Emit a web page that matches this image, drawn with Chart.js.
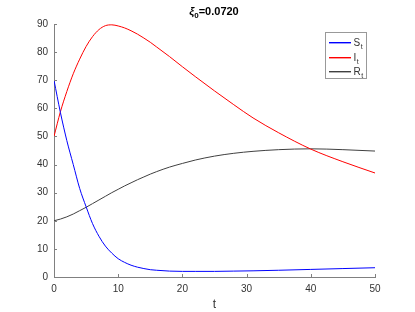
<!DOCTYPE html>
<html>
<head>
<meta charset="utf-8">
<script src="https://cdn.jsdelivr.net/npm/chart.js@4"></script>
<style>
  html, body { margin: 0; padding: 0; background: #fff; }
  #wrap { position: relative; width: 415px; height: 312px; }
</style>
</head>
<body>
<div id="wrap"><canvas id="sir" width="415" height="312"></canvas></div>
<script>
// SIR model run, xi_0 = 0.0720

const tValues = [0, 1, 2, 3, 4, 5, 6, 7, 8, 9, 10, 11, 12, 13, 14, 15, 16, 18, 20, 22, 25, 28, 31, 35, 40, 45, 50];
const sValues = [70, 58.5, 48.5, 40, 31.5, 25, 19, 14.5, 11, 8.5, 6.5, 5.2, 4.2, 3.5, 3.0, 2.6, 2.4, 2.1, 2.0, 2.0, 2.0, 2.1, 2.2, 2.4, 2.7, 3.0, 3.3];
const iValues = [50, 58.8, 66, 72.3, 77.5, 82, 85.5, 88, 89.4, 89.7, 89.3, 88.6, 87.6, 86.4, 85, 83.5, 81.8, 78.4, 74.8, 71.3, 66.2, 61.3, 56.6, 51.3, 45.5, 41, 37];
const rValues = [20, 20.6, 21.4, 22.4, 23.6, 24.8, 26.1, 27.4, 28.7, 30, 31.2, 32.4, 33.5, 34.6, 35.6, 36.6, 37.5, 39.1, 40.4, 41.6, 43, 44, 44.7, 45.3, 45.6, 45.3, 44.8];

const xTicks = [0, 10, 20, 30, 40, 50];
const yTicks = [0, 10, 20, 30, 40, 50, 60, 70, 80, 90];

const seriesNames = ['S', 'I', 'R'];
const seriesColors = ['#0000ff', '#ff0000', '#404040'];

const fontName = '"Liberation Sans", Arial, sans-serif';
const axisColor = '#808080';
const textColor = '#333333';

function toPoints(values) {
    let pts = [];
    for (let i = 0; i < tValues.length; i++) {
        pts.push({ x: tValues[i], y: values[i] });
    }
    return pts;
}

function makeDataset(idx, values) {
    return {
        label: seriesNames[idx] + 't',
        data: toPoints(values),
        borderColor: seriesColors[idx],
        borderWidth: 1,
        pointRadius: 0,
        fill: false,
        cubicInterpolationMode: 'monotone'
    };
}

// inward ticks, title and legend (MATLAB look)
const matlabExtras = {
    id: 'matlabExtras',
    afterDraw(chart) {
        const ctx = chart.ctx;
        const xs = chart.scales.x;
        const ys = chart.scales.y;
        const area = chart.chartArea;
        ctx.save();
        ctx.strokeStyle = axisColor;
        ctx.lineWidth = 1;
        ctx.beginPath();
        for (let i = 0; i < xTicks.length; i++) {
            const px = Math.round(xs.getPixelForValue(xTicks[i])) + 0.5;
            ctx.moveTo(px, area.bottom);
            ctx.lineTo(px, area.bottom - 3);
        }
        for (let i = 0; i < yTicks.length; i++) {
            const py = Math.round(ys.getPixelForValue(yTicks[i])) + 0.5;
            ctx.moveTo(area.left, py);
            ctx.lineTo(area.left + 3, py);
        }
        ctx.stroke();

        // title  xi_0=0.0720
        ctx.fillStyle = '#000';
        ctx.textBaseline = 'alphabetic';
        const a = '\u03be';
        const sub = '0';
        const rest = '=0.0720';
        ctx.font = 'italic bold 11px ' + fontName;
        const wa = ctx.measureText(a).width;
        ctx.font = 'bold 8px ' + fontName;
        const ws = ctx.measureText(sub).width;
        ctx.font = 'bold 11px ' + fontName;
        const wr = ctx.measureText(rest).width;
        let tx = 214 - (wa + ws + wr) / 2;
        const ty = 15;
        ctx.font = 'italic bold 11px ' + fontName;
        ctx.fillText(a, tx, ty);
        tx += wa;
        ctx.font = 'bold 8px ' + fontName;
        ctx.fillText(sub, tx, ty + 3);
        tx += ws;
        ctx.font = 'bold 11px ' + fontName;
        ctx.fillText(rest, tx, ty);

        // legend box
        ctx.fillStyle = '#fff';
        ctx.fillRect(325.5, 32.5, 41, 46);
        ctx.strokeStyle = '#999';
        ctx.strokeRect(325.5, 32.5, 41, 46);
        const rowY = [42, 57, 71];
        for (let i = 0; i < seriesNames.length; i++) {
            ctx.fillStyle = seriesColors[i];
            ctx.fillRect(329, rowY[i], 22, 1.4);
            ctx.fillStyle = textColor;
            ctx.font = '10px ' + fontName;
            ctx.fillText(seriesNames[i], 353.5, rowY[i] + 3.5);
            const w = ctx.measureText(seriesNames[i]).width;
            ctx.font = '7px ' + fontName;
            ctx.fillText('t', 353.5 + w + 0.5, rowY[i] + 6.5);
        }
        ctx.restore();
    }
};

const config = {
    type: 'line',
    data: {
        datasets: [
            makeDataset(0, sValues),
            makeDataset(1, iValues),
            makeDataset(2, rValues)
        ]
    },
    options: {
        responsive: false,
        animation: false,
        layout: { padding: { left: 0, right: 40, top: 24, bottom: 0 } },
        plugins: {
            legend: { display: false },
            title: { display: false },
            tooltip: { enabled: false }
        },
        scales: {
            x: {
                type: 'linear',
                min: 0,
                max: 50,
                afterFit: function (scale) { scale.height = 35; },
                afterBuildTicks: function (scale) {
                    scale.ticks = xTicks.map(function (v) { return { value: v }; });
                },
                grid: { display: false, drawTicks: false },
                border: { display: true, color: axisColor, width: 1 },
                ticks: {
                    color: textColor,
                    font: { family: fontName, size: 10 },
                    padding: 6,
                    maxRotation: 0
                },
                title: {
                    display: true,
                    text: 't',
                    color: textColor,
                    font: { family: fontName, size: 12 },
                    padding: { top: 2, bottom: 0 }
                }
            },
            y: {
                type: 'linear',
                min: 0,
                max: 90,
                afterFit: function (scale) { scale.width = 54; },
                afterBuildTicks: function (scale) {
                    scale.ticks = yTicks.map(function (v) { return { value: v }; });
                },
                grid: { display: false, drawTicks: false },
                border: { display: true, color: axisColor, width: 1 },
                ticks: {
                    color: textColor,
                    font: { family: fontName, size: 10 },
                    padding: 6
                }
            }
        }
    },
    plugins: [matlabExtras]
};

const sirChart = new Chart(document.getElementById('sir').getContext('2d'), config);
</script>
</body>
</html>
